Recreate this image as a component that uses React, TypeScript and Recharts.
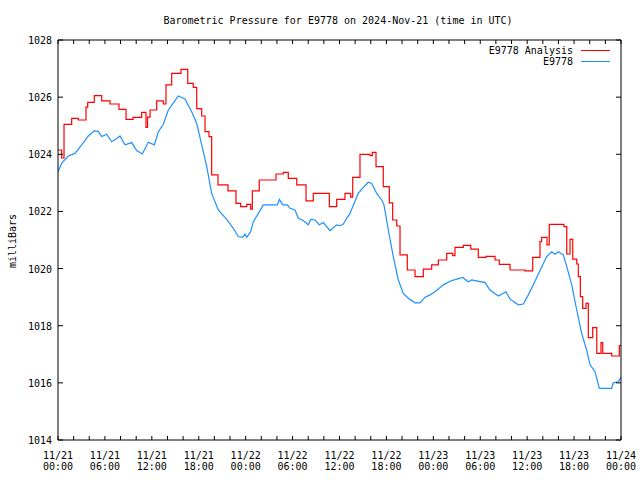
import { LineChart, Line, XAxis, YAxis } from "recharts"

// hours since 2024-11-21 00:00 UTC
const analysisHours = [
  0, 0.47, 0.77, 1.75, 2.6, 3.58, 3.8, 4.64, 5.59, 6.65, 7.8, 8.7, 9.6, 10.7, 11.25, 11.45, 11.77,
  12.62, 13.47, 13.81, 14.54, 15.73, 16.59, 17.3, 17.74, 18.38, 18.8, 19.31, 19.65, 20.46, 21.74,
  22.76, 23.36, 24.13, 24.64, 24.85, 25.74, 27.88, 28.81, 29.45, 30.53, 31.72, 32.65, 34.7, 35.64,
  36.7, 37.43, 37.69, 38.62, 39.9, 40.2, 40.67, 41.6, 42.37, 42.8, 43.32, 43.74, 44.67, 45.66,
  46.72, 47.79, 48.64, 49.71, 50.48, 50.77, 51.83, 52.78, 53.75, 54.74, 55.89, 56.44, 57.81,
  59.72, 60.71, 61.64, 61.84, 62.54, 62.83, 64.71, 65.06, 65.48, 65.83, 66.34, 66.54, 66.8, 67.1,
  67.53, 67.82, 68.38, 68.9, 69.44, 69.66, 70.81, 71.79, 72,
]
const analysisValues = [
  1024.15, 1023.87, 1025.05, 1025.26, 1025.2, 1025.65, 1025.82, 1026.05, 1025.87, 1025.76,
  1025.57, 1025.22, 1025.29, 1025.47, 1024.94, 1025.3, 1025.55, 1025.87, 1025.76, 1026.43,
  1026.83, 1026.97, 1026.48, 1026.34, 1025.6, 1025.34, 1024.79, 1024.62, 1023.28, 1022.93,
  1022.72, 1022.28, 1022.17, 1022.25, 1022.08, 1022.72, 1023.1, 1023.31, 1023.37, 1023.16,
  1022.93, 1022.37, 1022.63, 1022.17, 1022.42, 1022.63, 1022.5, 1023.19, 1024.0, 1023.95,
  1024.07, 1023.57, 1022.87, 1022.3, 1021.7, 1021.49, 1020.48, 1019.95, 1019.72, 1019.98,
  1020.13, 1020.3, 1020.53, 1020.45, 1020.74, 1020.81, 1020.68, 1020.39, 1020.43, 1020.3,
  1020.15, 1019.95, 1019.92, 1020.39, 1020.94, 1021.09, 1020.83, 1021.55, 1021.47, 1020.51,
  1021.02, 1020.33, 1020.16, 1019.72, 1019.02, 1018.61, 1018.78, 1017.58, 1017.93, 1017.03,
  1017.41, 1017.03, 1016.94, 1017.3, 1017.3,
]

const stationHours = [
  0, 0.51, 1.32, 2.17, 3.03, 3.88, 4.64, 5.15, 5.59, 6.23, 6.87, 7.51, 7.93, 8.57, 9.43, 10.06,
  10.78, 11.55, 12.32, 12.83, 13.47, 14.11, 14.87, 15.39, 16.24, 17.1, 17.74, 18.38, 19.02, 19.65,
  20.5, 21.57, 22.42, 23.06, 23.62, 23.92, 24.13, 24.64, 24.98, 25.62, 26.26, 28.05, 28.31, 28.74,
  29.33, 29.67, 30.31, 30.73, 31.37, 32.01, 32.32, 32.87, 33.42, 33.93, 34.79, 35.13, 35.64, 36.06,
  36.49, 36.92, 37.34, 37.86, 38.4, 39.04, 39.68, 40.12, 40.76, 41.4, 41.69, 42.24, 42.88, 43.52,
  44.16, 44.8, 45.66, 46.3, 46.94, 47.58, 48.21, 49.28, 50.35, 51.76, 52.47, 52.91, 54.61, 55.25,
  56.31, 57.29, 57.81, 58.87, 59.51, 60.15, 60.79, 61.64, 62.5, 63.14, 63.56, 63.98, 64.62, 65.06,
  65.7, 66.34, 66.97, 67.61, 68.04, 68.68, 69.23, 70.81, 71.01, 71.65, 72,
]
const stationValues = [
  1023.39, 1023.7, 1023.94, 1024.03, 1024.33, 1024.64, 1024.82, 1024.8, 1024.62, 1024.7, 1024.44,
  1024.55, 1024.64, 1024.33, 1024.41, 1024.13, 1024.01, 1024.42, 1024.33, 1024.79, 1025.05,
  1025.55, 1025.84, 1026.04, 1025.94, 1025.49, 1025.08, 1024.33, 1023.57, 1022.63, 1022.05,
  1021.72, 1021.41, 1021.12, 1021.09, 1021.21, 1021.09, 1021.29, 1021.64, 1021.93, 1022.23,
  1022.23, 1022.42, 1022.23, 1022.23, 1022.11, 1022.05, 1021.76, 1021.68, 1021.53, 1021.72,
  1021.7, 1021.53, 1021.61, 1021.33, 1021.41, 1021.53, 1021.5, 1021.56, 1021.76, 1021.93,
  1022.28, 1022.63, 1022.84, 1023.02, 1022.98, 1022.63, 1022.4, 1022.23, 1021.35, 1020.42,
  1019.6, 1019.13, 1018.96, 1018.8, 1018.8, 1019.0, 1019.08, 1019.19, 1019.43, 1019.58,
  1019.69, 1019.54, 1019.6, 1019.51, 1019.25, 1019.04, 1019.19, 1018.93, 1018.73, 1018.76,
  1019.08, 1019.43, 1019.93, 1020.42, 1020.59, 1020.5, 1020.59, 1020.48, 1020.07, 1019.43,
  1018.55, 1017.73, 1017.15, 1016.63, 1016.39, 1015.81, 1015.81, 1016.0, 1016.04, 1016.19,
]

const xTicks = [0, 2, 4, 6, 8, 10, 12, 14, 16, 18, 20, 22, 24, 26, 28, 30, 32, 34, 36, 38, 40, 42, 44, 46, 48, 50, 52, 54, 56, 58, 60, 62, 64, 66, 68, 70, 72]
const labelHours = [0, 6, 12, 18, 24, 30, 36, 42, 48, 54, 60, 66, 72]
const labelDates = ["11/21", "11/21", "11/21", "11/21", "11/22", "11/22", "11/22", "11/22", "11/23", "11/23", "11/23", "11/23", "11/24"]
const labelTimes = ["00:00", "06:00", "12:00", "18:00", "00:00", "06:00", "12:00", "18:00", "00:00", "06:00", "12:00", "18:00", "00:00"]
const yTicks = [1014, 1016, 1018, 1020, 1022, 1024, 1026, 1028]

const analysisData = analysisHours.map((h, i) => ({ h, v: analysisValues[i] }))
const stationData = stationHours.map((h, i) => ({ h, v: stationValues[i] }))

const series = [
  { name: "E9778 Analysis", color: "#ff0000" },
  { name: "E9778", color: "#1e90ff" },
]

const FONT = "'DejaVu Sans Mono', monospace"

function BottomTick({ x, y, payload }: any) {
  const idx = labelHours.indexOf(payload.value)
  return (
    <g>
      <line x1={x} y1={y} x2={x} y2={y - 4} stroke="#000" />
      {idx >= 0 && (
        <text textAnchor="middle" fontFamily={FONT} fontSize={10} fill="#000">
          <tspan x={x} y={y + 18.5}>{labelDates[idx]}</tspan>
          <tspan x={x} y={y + 29.5}>{labelTimes[idx]}</tspan>
        </text>
      )}
    </g>
  )
}

function TopTick({ x, y }: any) {
  return <line x1={x} y1={y} x2={x} y2={y + 4} stroke="#000" />
}

function LeftTick({ x, y, payload }: any) {
  return (
    <g>
      <line x1={x} y1={y} x2={x + 5} y2={y} stroke="#000" />
      <text x={x - 6} y={y + 4} textAnchor="end" fontFamily={FONT} fontSize={10} fill="#000">
        {payload.value}
      </text>
    </g>
  )
}

function RightTick({ x, y }: any) {
  return <line x1={x} y1={y} x2={x - 5} y2={y} stroke="#000" />
}

export default function App() {
  return (
    <div style={{ position: "absolute", left: 0, top: 0, width: 640, height: 480, background: "#fff" }}>
      <div
        style={{
          position: "absolute",
          top: 15,
          left: 0,
          width: 676,
          textAlign: "center",
          fontFamily: FONT,
          fontSize: 10,
        }}
      >
        Barometric Pressure for E9778 on 2024-Nov-21 (time in UTC)
      </div>
      <div
        style={{
          position: "absolute",
          left: 12,
          top: 241,
          transform: "translate(-50%, -50%) rotate(-90deg)",
          fontFamily: FONT,
          fontSize: 10,
          whiteSpace: "nowrap",
        }}
      >
        milliBars
      </div>
      <div
        style={{
          position: "absolute",
          top: 45,
          right: 30,
          fontFamily: FONT,
          fontSize: 10,
          lineHeight: "11px",
          zIndex: 2,
        }}
      >
        {series.map((s) => (
          <div key={s.name} style={{ display: "flex", justifyContent: "flex-end", alignItems: "center" }}>
            <span>{s.name}</span>
            <span style={{ display: "inline-block", width: 29, height: 1, background: s.color, marginLeft: 8 }} />
          </div>
        ))}
      </div>
      <LineChart width={640} height={480} data={analysisData} margin={{ top: 10, right: 0, bottom: 0, left: 0 }}>
        <XAxis
          xAxisId="b"
          dataKey="h"
          type="number"
          domain={[0, 72]}
          ticks={xTicks}
          interval={0}
          height={40}
          tickSize={0}
          tickMargin={0}
          tickLine={false}
          axisLine={{ stroke: "#000" }}
          tick={<BottomTick />}
          allowDataOverflow
        />
        <XAxis
          xAxisId="t"
          orientation="top"
          dataKey="h"
          type="number"
          domain={[0, 72]}
          ticks={xTicks}
          interval={0}
          height={30}
          tickSize={0}
          tickMargin={0}
          tickLine={false}
          axisLine={{ stroke: "#000" }}
          tick={<TopTick />}
          allowDataOverflow
        />
        <YAxis
          yAxisId="l"
          type="number"
          domain={[1014, 1028]}
          ticks={yTicks}
          interval={0}
          width={58}
          tickSize={0}
          tickMargin={0}
          tickLine={false}
          axisLine={{ stroke: "#000" }}
          tick={<LeftTick />}
          allowDataOverflow
        />
        <YAxis
          yAxisId="r"
          orientation="right"
          type="number"
          domain={[1014, 1028]}
          ticks={yTicks}
          interval={0}
          width={19}
          tickSize={0}
          tickMargin={0}
          tickLine={false}
          axisLine={{ stroke: "#000" }}
          tick={<RightTick />}
          allowDataOverflow
        />
        <Line
          xAxisId="b"
          yAxisId="l"
          data={analysisData}
          dataKey="v"
          name={series[0].name}
          type="stepAfter"
          stroke={series[0].color}
          strokeWidth={1.2}
          dot={false}
          isAnimationActive={false}
        />
        <Line
          xAxisId="b"
          yAxisId="l"
          data={stationData}
          dataKey="v"
          name={series[1].name}
          type="linear"
          stroke={series[1].color}
          strokeWidth={1.2}
          dot={false}
          isAnimationActive={false}
        />
      </LineChart>
    </div>
  )
}
